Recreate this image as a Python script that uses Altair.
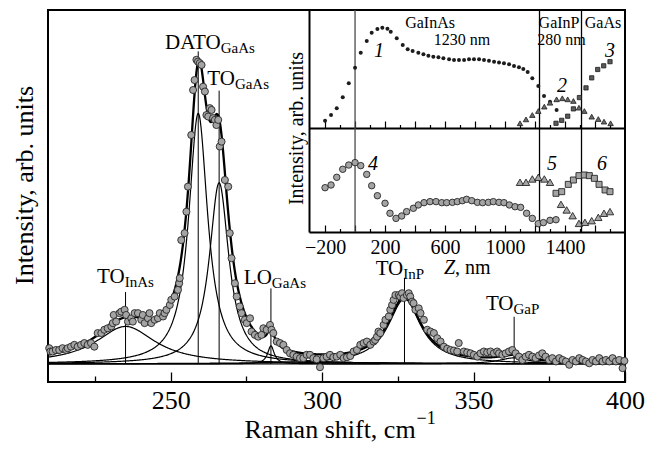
import altair as alt
import numpy as np
import pandas as pd

FONT = "Liberation Serif"

# ---------------- main Raman spectrum ----------------
raman_x = [209.9, 210.3, 211.0, 212.1, 213.2, 214.3, 215.5, 216.0, 217.1, 218.2,
           219.3, 220.4, 221.5, 222.6, 223.7, 224.8, 225.9, 227.1, 228.1, 229.2,
           230.4, 230.9, 231.2, 232.0, 233.1, 233.7, 234.8, 235.3, 235.9, 237.0,
           237.5, 238.1, 239.2, 240.3, 240.8, 241.4, 242.5, 243.0, 243.6, 244.7,
           245.8, 246.4, 247.5, 248.0, 248.6, 249.7, 250.2, 251.3, 252.4, 252.8,
           253.0, 253.5, 254.6, 255.2, 255.7, 256.8, 257.4, 257.9, 258.5, 259.0,
           259.6, 260.2, 260.7, 261.3, 261.8, 262.4, 262.9, 263.5, 264.0, 264.6,
           265.1, 265.7, 266.2, 266.8, 267.9, 269.0, 269.5, 270.1, 271.2, 271.8,
           272.8, 273.4, 274.5, 275.1, 276.2, 276.7, 277.8, 278.9, 280.0, 280.6,
           281.7, 282.8, 283.3, 283.9, 285.0, 286.1, 287.2, 288.3, 289.4, 290.5,
           291.6, 292.7, 293.8, 294.9, 296.0, 297.1, 298.2, 299.3, 300.4, 301.5,
           302.6, 303.7, 304.8, 306.0, 307.1, 308.2, 309.3, 310.4, 311.5, 312.6,
           313.7, 314.8, 315.9, 317.0, 317.5, 318.1, 318.6, 319.2, 320.3, 320.9,
           322.0, 322.5, 323.1, 323.6, 324.2, 325.3, 325.8, 326.4, 326.9, 328.0,
           328.6, 329.1, 329.7, 330.2, 330.8, 331.9, 332.5, 333.6, 334.7, 335.8,
           336.9, 338.0, 339.1, 340.2, 341.3, 342.4, 343.5, 344.6, 345.1, 346.8,
           347.9, 349.0, 350.1, 351.2, 352.3, 353.4, 354.5, 355.6, 356.7, 357.8,
           358.4, 359.5, 360.6, 361.7, 362.8, 363.9, 365.0, 366.1, 367.2, 368.3,
           369.4, 370.5, 371.6, 372.7, 373.8, 374.9, 376.0, 377.2, 378.3, 379.4,
           380.5, 381.6, 382.7, 383.8, 384.9, 386.0, 387.1, 388.2, 389.3, 390.4,
           391.5, 392.6, 393.7, 394.8, 395.9, 397.0, 398.1, 399.2, 399.8]
raman_y = [0.052, 0.041, 0.041, 0.046, 0.046, 0.052, 0.046, 0.052, 0.057, 0.063,
           0.057, 0.063, 0.069, 0.063, 0.069, 0.057, 0.102, 0.102, 0.113, 0.118,
           0.124, 0.135, 0.162, 0.140, 0.168, 0.173, 0.179, 0.162, 0.140, 0.151,
           0.140, 0.168, 0.168, 0.146, 0.162, 0.135, 0.151, 0.168, 0.135, 0.146,
           0.151, 0.168, 0.157, 0.168, 0.179, 0.195, 0.212, 0.223, 0.245, 0.267,
           0.284, 0.410, 0.433, 0.504, 0.587, 0.758, 0.907, 0.940, 1.007, 1.001,
           0.996, 0.990, 0.918, 0.902, 0.824, 0.819, 0.847, 0.841, 0.814, 0.808,
           0.791, 0.808, 0.720, 0.736, 0.609, 0.587, 0.433, 0.350, 0.267, 0.223,
           0.190, 0.168, 0.146, 0.135, 0.151, 0.107, 0.096, 0.090, 0.096, 0.118,
           0.113, 0.129, 0.113, 0.102, 0.074, 0.069, 0.063, 0.046, 0.035, 0.030,
           0.024, 0.019, 0.019, 0.030, 0.030, 0.019, 0.015, -0.011, 0.019, 0.024,
           0.030, 0.022, 0.024, 0.030, 0.019, 0.022, 0.026, 0.041, 0.046, 0.063,
           0.069, 0.074, 0.063, 0.074, 0.079, 0.090, 0.107, 0.102, 0.129, 0.146,
           0.157, 0.179, 0.195, 0.212, 0.228, 0.228, 0.223, 0.234, 0.218, 0.228,
           0.234, 0.223, 0.206, 0.201, 0.179, 0.184, 0.168, 0.146, 0.113, 0.107,
           0.102, 0.085, 0.074, 0.057, 0.050, 0.046, 0.044, 0.041, 0.069, 0.041,
           0.038, 0.035, 0.030, 0.024, 0.035, 0.041, 0.038, 0.041, 0.035, 0.041,
           0.035, 0.030, 0.035, 0.041, 0.046, 0.035, 0.024, 0.013, 0.024, 0.030,
           0.024, 0.019, 0.028, 0.035, 0.024, 0.013, 0.019, 0.008, 0.019, 0.013,
           0.008, -0.003, 0.013, 0.008, 0.019, 0.013, 0.008, 0.002, 0.013, 0.008,
           0.019, 0.008, 0.013, 0.008, 0.019, 0.008, 0.013, -0.014, 0.010]

# fitted Lorentzian components (centre, amplitude, half width)
peak_names = ["TO", "DATO", "TO", "LO", "TO", "TO"]
peak_subs = ["InAs", "GaAs", "GaAs", "GaAs", "InP", "GaP"]
peak_center = [235.1, 259.1, 266.0, 283.1, 327.2, 363.4]
peak_amp = [0.124, 0.83, 0.60, 0.06, 0.215, 0.02]
peak_hwhm = [12.0, 3.8, 3.9, 1.3, 6.5, 6.0]
marker_top = [0.238, 1.035, 0.905, 0.25, 0.285, 0.156]
label_x = [234.8, 266.5, 271.2, 283.4, 326.8, 363.2]
label_y = [0.268, 1.043, 0.924, 0.265, 0.295, 0.179]

main_major_ticks = [250, 300, 350, 400]
main_minor_ticks = [225, 275, 325, 375]

# ---------------- inset: depth profiles ----------------
s1_z = [-200, -160, -122, -82, -42, 0, 38, 78, 111, 149, 182, 216, 238, 278, 318, 351,
        384, 422, 456, 489, 522, 556, 589, 627, 660, 693, 727, 760, 793, 827, 860, 893,
        927, 960, 993, 1027, 1060, 1093, 1122, 1151, 1182, 1222, 1260, 1300, 1344]
s1_v = [6.2, 11, 16.7, 26, 37.9, 51.1, 63.8, 73.7, 80.8, 83.9, 85, 84.2, 81.6, 76, 70.3, 66.7,
        65.3, 63.8, 62.5, 61.3, 60.4, 59.9, 59.1, 58.2, 57.6, 57.6, 57.6, 58.2, 58.2, 58.2, 57.6, 57.0,
        56.2, 55.6, 54.8, 54.0, 52.5, 51.4, 50, 47.5, 42.1, 35.6, 27.1, 22.3, 15.3]
s2_z = [1100, 1140, 1182, 1222, 1262, 1300, 1344, 1382, 1418, 1456, 1493, 1529, 1578, 1622, 1660, 1704]
s2_v = [4.0, 7.3, 11.0, 14.4, 18.1, 21.4, 24.3, 25.2, 24.3, 22.9, 17.2, 14.4, 9.6, 7.6, 5.4, 4.0]
s3_z = [1340, 1378, 1418, 1456, 1496, 1540, 1578, 1618, 1658, 1700]
s3_v = [4.0, 6.5, 10, 16.2, 25.8, 34, 42.5, 49.6, 52.7, 56.2]
s4_z = [-200, -160, -122, -82, -42, 0, 38, 78, 111, 149, 200, 233, 273, 311, 344, 389, 422,
        460, 500, 540, 578, 611, 649, 682, 716, 744, 778, 816, 851, 889, 922, 960, 993, 1029,
        1067, 1104, 1144, 1182, 1222, 1256, 1300, 1340]
s4_v = [42.6, 45.2, 52.6, 60.3, 64.4, 66.7, 63.8, 55.4, 44.5, 34.9, 27.6, 18.0, 13.1, 15.4, 19.6, 22.8, 26,
        28.2, 29.2, 29.2, 28.2, 28.2, 28.5, 29.2, 30.1, 31.4, 30.1, 28.5, 28.2, 28.5, 29.2, 28.5, 28.2, 26,
        24.3, 23.7, 18, 13.1, 8.0, 9.0, 11.2, 11.8]
s5_z = [1100, 1140, 1182, 1222, 1262, 1300, 1373, 1411, 1451, 1493, 1533, 1578, 1622, 1660, 1700]
s5_v = [47.8, 47.8, 51.0, 52.6, 51.0, 47.8, 26.6, 21.2, 15.7, 8.3, 9.3, 10.9, 14.1, 18, 19.6]
s6_z = [1340, 1378, 1422, 1456, 1493, 1529, 1562, 1596, 1627, 1667, 1700]
s6_v = [37.2, 38.8, 45.8, 50, 54.2, 54.8, 54.2, 51.6, 45.8, 40.4, 38.8]

layer_bounds_z = [0, 1230, 1510]
inset_major = [-200, 0, 200, 400, 600, 800, 1000, 1200, 1400, 1600]
inset_minor = [-100, 100, 300, 500, 700, 900, 1100, 1300, 1500, 1700]

top_text = ["GaInAs", "1230 nm", "GaInP", "280 nm", "GaAs"]
top_text_z = [500, 713, 1360, 1377, 1653]
top_text_v = [84.7, 70.3, 84.7, 70.3, 84.7]
top_num = ["1", "2", "3"]
top_num_z = [160, 1380, 1700]
top_num_v = [60.2, 30.5, 60.2]
bot_num = ["4", "5", "6"]
bot_num_z = [120, 1313, 1647]
bot_num_v = [59.6, 59.6, 59.6]

# ---------------- build tables ----------------
grid = np.arange(209.5, 400.001, 0.25)
rows = []
total = np.zeros_like(grid)
for i, (c, a, g) in enumerate(zip(peak_center, peak_amp, peak_hwhm)):
    prof = a / (1.0 + ((grid - c) / g) ** 2)
    total = total + prof
    rows.append(pd.DataFrame({"x": grid, "y": prof, "peak": i}))
comp_df = pd.concat(rows, ignore_index=True)
total_df = pd.DataFrame({"x": grid, "y": total})
pts_df = pd.DataFrame({"x": raman_x, "y": raman_y})
rule_df = pd.DataFrame({"x": peak_center, "y": [0.0] * len(peak_center), "y2": marker_top})
lab_df = pd.DataFrame({"x": label_x, "y": label_y, "name": peak_names, "sub": peak_subs})
sup_df = pd.DataFrame({"x": [331.2], "y": [-0.200], "t": ["\u22121"]})

# ---------------- main panel ----------------
main_x_scale = alt.Scale(domain=[209.5, 400], nice=False, zero=False)
main_x_axis = alt.Axis(orient="bottom", values=main_major_ticks, format="d",
                       tickSize={"expr": "-10"}, tickWidth=1.3, tickColor="black",
                       domain=False, grid=False, labelFont=FONT, labelFontSize=26,
                       labelColor="black", labelPadding=36, labelBaseline="alphabetic",
                       labelFlush=False, labelOverlap=False,
                       title="Raman shift, cm", titleFont=FONT, titleFontSize=26,
                       titleFontWeight="normal", titleColor="black", titleAlign="left",
                       titleX=196, titleY=55, titleBaseline="alphabetic")
main_y_axis = alt.Axis(orient="left", ticks=False, labels=False, domain=False, grid=False,
                       title="Intensity, arb. units", titleFont=FONT, titleFontSize=26,
                       titleFontWeight="normal", titleColor="black", titleX=-16, titleY=175,
                       titleBaseline="alphabetic", titleAngle=270)
mx = alt.X("x:Q", scale=main_x_scale, axis=main_x_axis)
my = alt.Y("y:Q", scale=alt.Scale(domain=[-0.06, 1.172], nice=False, zero=False), axis=main_y_axis)

comps = alt.Chart(comp_df).mark_line(color="black", strokeWidth=1.2).encode(x=mx, y=my, detail="peak:N")
tot = alt.Chart(total_df).mark_line(color="black", strokeWidth=2.3).encode(x=mx, y=my)
rules = alt.Chart(rule_df).mark_rule(color="black", strokeWidth=1).encode(x=mx, y=my, y2="y2:Q")
pts = alt.Chart(pts_df).mark_circle(size=50, color="#a4a4a4", stroke="#262626", strokeWidth=0.9,
                                    opacity=1).encode(x=mx, y=my)
labs = alt.Chart(lab_df).mark_text(align="right", baseline="alphabetic", fontSize=21, font=FONT,
                                   color="black").encode(x=mx, y=my, text="name:N")
subs = alt.Chart(lab_df).mark_text(align="left", baseline="alphabetic", fontSize=15, font=FONT,
                                   color="black", dy=4).encode(x=mx, y=my, text="sub:N")
sup = alt.Chart(sup_df).mark_text(align="left", baseline="alphabetic", fontSize=18, font=FONT,
                                  color="black").encode(x=mx, y=my, text="t:N")
main = alt.layer(comps, tot, rules, pts, labs, subs, sup)

minor_main = alt.Chart(pd.DataFrame({"x": main_minor_ticks})).mark_point(opacity=0).encode(
    x=alt.X("x:Q", scale=main_x_scale,
            axis=alt.Axis(orient="bottom", values=main_minor_ticks, tickSize={"expr": "-6"},
                          tickWidth=1.3, tickColor="black", labels=False, domain=False,
                          grid=False, title=None)))

# ---------------- inset ----------------
z_scale = alt.Scale(domain=[-307, 1800], range=[261, 577], nice=False, zero=False)


def z_axis(offset, values, size, labels, domain):
    kw = dict(orient="bottom", offset=offset, values=values, tickSize={"expr": str(-size)},
              tickWidth=1.2, tickColor="black", domain=domain, domainColor="black",
              domainWidth=2, grid=False, title=None, labels=labels)
    if labels:
        kw.update(format="d", labelExpr="(datum.value + 200) % 400 === 0 ? datum.label : ''",
                  labelFont=FONT, labelFontSize=20, labelColor="black", labelPadding=28,
                  labelBaseline="alphabetic", labelFlush=False, labelOverlap=False)
    return alt.Axis(**kw)


top_x = alt.X("z:Q", scale=z_scale, axis=z_axis(-254, inset_major, 7, False, True))
top_y = alt.Y("v:Q", scale=alt.Scale(domain=[0, 100], range=[118, 0], nice=False, zero=False), axis=None)
bot_x = alt.X("z:Q", scale=z_scale, axis=z_axis(-150, inset_major, 7, True, True))
bot_y = alt.Y("v:Q", scale=alt.Scale(domain=[0, 100], range=[222, 118], nice=False, zero=False), axis=None)

d1 = pd.DataFrame({"z": s1_z, "v": s1_v})
d2 = pd.DataFrame({"z": s2_z, "v": s2_v})
d3 = pd.DataFrame({"z": s3_z, "v": s3_v})
d4 = pd.DataFrame({"z": s4_z, "v": s4_v})
d5 = pd.DataFrame({"z": s5_z, "v": s5_v})
d6 = pd.DataFrame({"z": s6_z, "v": s6_v})
tt = pd.DataFrame({"z": top_text_z, "v": top_text_v, "t": top_text})
tn = pd.DataFrame({"z": top_num_z, "v": top_num_v, "t": top_num})
bn = pd.DataFrame({"z": bot_num_z, "v": bot_num_v, "t": bot_num})
zt1 = pd.DataFrame({"z": [667], "v": [-40.4], "t": ["Z"]})
zt2 = pd.DataFrame({"z": [667], "v": [-40.4], "t": [", nm"]})

top = alt.layer(
    alt.Chart(d1).mark_circle(size=16, color="#1c1c1c", opacity=1).encode(x=top_x, y=top_y),
    alt.Chart(d2).mark_point(shape="triangle-up", filled=True, size=30, fill="#6a6a6a",
                             stroke="#1c1c1c", strokeWidth=0.8, opacity=1).encode(x=top_x, y=top_y),
    alt.Chart(d3).mark_point(shape="square", filled=True, size=18, fill="#5a5a5a",
                             stroke="#1c1c1c", strokeWidth=0.8, opacity=1).encode(x=top_x, y=top_y),
    alt.Chart(tt).mark_text(align="center", baseline="alphabetic", fontSize=16, font=FONT,
                            color="black").encode(x=top_x, y=top_y, text="t:N"),
    alt.Chart(tn).mark_text(align="center", baseline="alphabetic", fontSize=20, font=FONT,
                            fontStyle="italic", color="black").encode(x=top_x, y=top_y, text="t:N"),
)
top_minor = alt.Chart(pd.DataFrame({"z": inset_minor})).mark_point(opacity=0).encode(
    x=alt.X("z:Q", scale=z_scale, axis=z_axis(-254, inset_minor, 3.5, False, False)))

bottom = alt.layer(
    alt.Chart(d4).mark_circle(size=42, color="#a4a4a4", stroke="#262626", strokeWidth=0.9,
                              opacity=1).encode(x=bot_x, y=bot_y),
    alt.Chart(d5).mark_point(shape="triangle-up", filled=True, size=55, fill="#a4a4a4",
                             stroke="#262626", strokeWidth=0.9, opacity=1).encode(x=bot_x, y=bot_y),
    alt.Chart(d6).mark_point(shape="square", filled=True, size=36, fill="#a4a4a4",
                             stroke="#262626", strokeWidth=0.9, opacity=1).encode(x=bot_x, y=bot_y),
    alt.Chart(bn).mark_text(align="center", baseline="alphabetic", fontSize=20, font=FONT,
                            fontStyle="italic", color="black").encode(x=bot_x, y=bot_y, text="t:N"),
    alt.Chart(zt1).mark_text(align="right", baseline="alphabetic", fontSize=20, font=FONT,
                             fontStyle="italic", color="black").encode(x=bot_x, y=bot_y, text="t:N"),
    alt.Chart(zt2).mark_text(align="left", baseline="alphabetic", fontSize=20, font=FONT,
                             color="black").encode(x=bot_x, y=bot_y, text="t:N"),
)
bottom_minor = alt.Chart(pd.DataFrame({"z": inset_minor})).mark_point(opacity=0).encode(
    x=alt.X("z:Q", scale=z_scale, axis=z_axis(-150, inset_minor, 3.5, False, False)))

frame_y = alt.Y("lo:Q", scale=alt.Scale(domain=[0, 1], range=[222, 0], nice=False, zero=False),
                axis=alt.Axis(orient="left", offset=-261, domain=True, domainColor="black",
                              domainWidth=2, ticks=False, labels=False, grid=False,
                              title="Intensity, arb. units", titleFont=FONT, titleFontSize=20,
                              titleFontWeight="normal", titleColor="black", titleX=-7,
                              titleY=118, titleBaseline="alphabetic", titleAngle=270))
frame_x = alt.X("z:Q", scale=z_scale, axis=None)
bounds = pd.DataFrame({"z": layer_bounds_z, "lo": [0, 0, 0], "hi": [1, 1, 1],
                       "k": ["a", "b", "b"]})
inset_lines = alt.layer(
    alt.Chart(bounds).mark_rule(strokeWidth=1.3).encode(
        x=frame_x, y=frame_y, y2="hi:Q",
        color=alt.Color("k:N", scale=alt.Scale(domain=["a", "b"], range=["#4a4a4a", "black"]),
                        legend=None)),
)

chart = alt.layer(main, minor_main, inset_lines, top, top_minor, bottom, bottom_minor).resolve_scale(
    x="independent", y="independent"
).properties(
    width=577, height=372,
    padding={"left": 40, "top": 2, "right": 24, "bottom": 60},
    autosize=alt.AutoSizeParams(type="none"),
).configure(font=FONT).configure_view(stroke="black", strokeWidth=2)

chart.save("out.html", embed_options={"renderer": "svg", "actions": False})
